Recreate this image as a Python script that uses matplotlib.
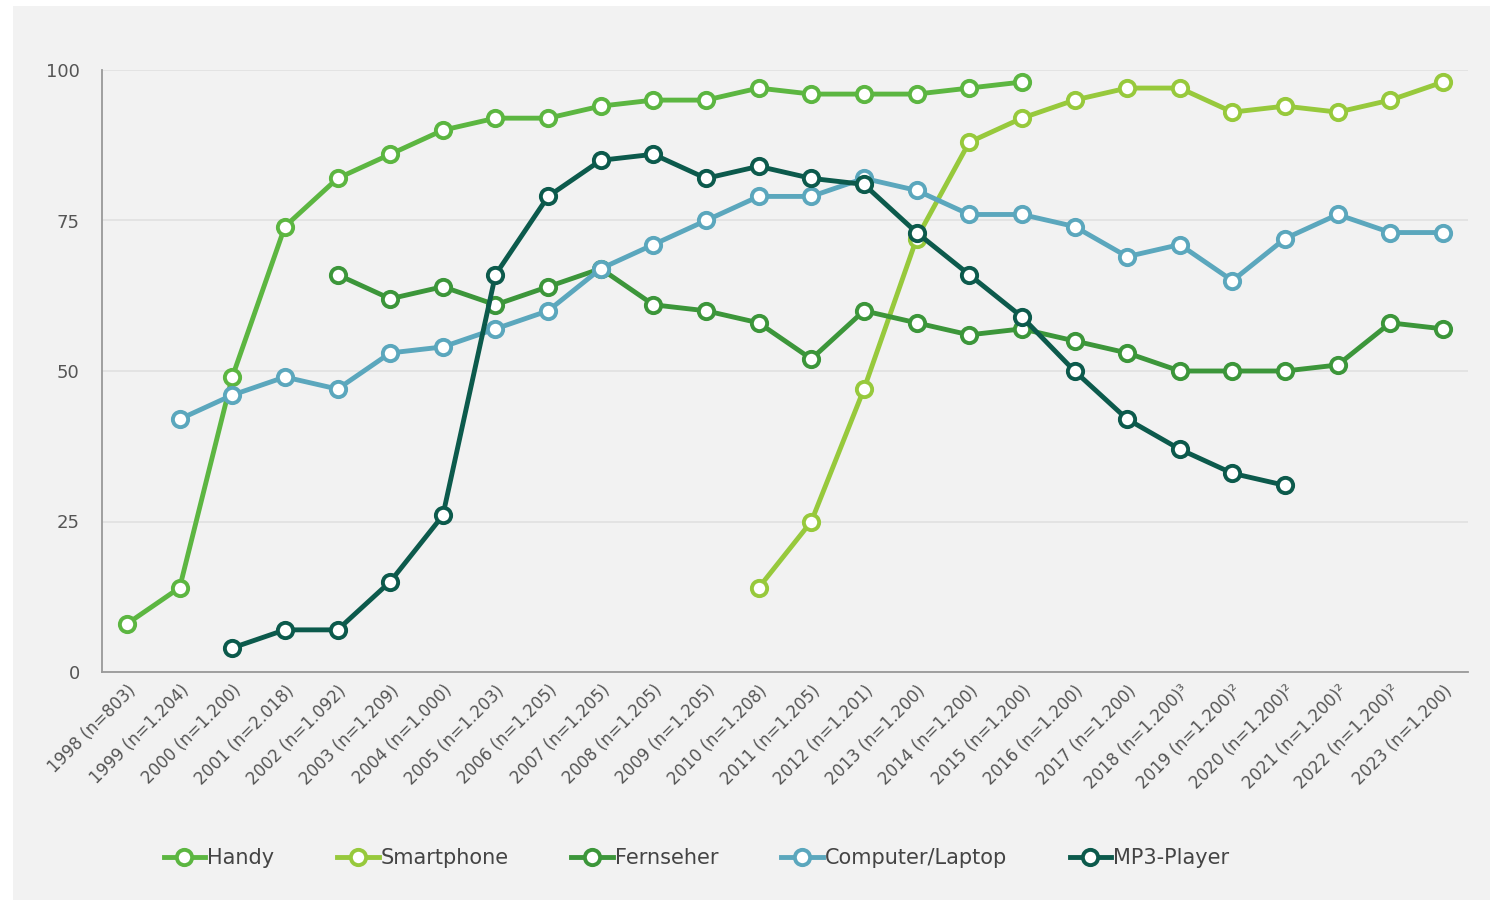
import numpy as np
import matplotlib.pyplot as plt
from matplotlib.patches import Rectangle

nan = np.nan

jahre = [
    "1998 (n=803)", "1999 (n=1.204)", "2000 (n=1.200)", "2001 (n=2.018)",
    "2002 (n=1.092)", "2003 (n=1.209)", "2004 (n=1.000)", "2005 (n=1.203)",
    "2006 (n=1.205)", "2007 (n=1.205)", "2008 (n=1.205)", "2009 (n=1.205)",
    "2010 (n=1.208)", "2011 (n=1.205)", "2012 (n=1.201)", "2013 (n=1.200)",
    "2014 (n=1.200)", "2015 (n=1.200)", "2016 (n=1.200)", "2017 (n=1.200)",
    "2018 (n=1.200)³", "2019 (n=1.200)²", "2020 (n=1.200)²", "2021 (n=1.200)²",
    "2022 (n=1.200)²", "2023 (n=1.200)",
]

handy = [8, 14, 49, 74, 82, 86, 90, 92, 92, 94, 95, 95, 97, 96, 96, 96, 97, 98,
         nan, nan, nan, nan, nan, nan, nan, nan]
smartphone = [nan] * 12 + [14, 25, 47, 72, 88, 92, 95, 97, 97, 93, 94, 93, 95, 98]
fernseher = [nan, nan, nan, nan, 66, 62, 64, 61, 64, 67, 61, 60, 58, 52, 60, 58,
             56, 57, 55, 53, 50, 50, 50, 51, 58, 57]
computer = [nan, 42, 46, 49, 47, 53, 54, 57, 60, 67, 71, 75, 79, 79, 82, 80,
            76, 76, 74, 69, 71, 65, 72, 76, 73, 73]
mp3 = [nan, nan, 4, 7, 7, 15, 26, 66, 79, 85, 86, 82, 84, 82, 81, 73, 66, 59,
       50, 42, 37, 33, 31, nan, nan, nan]

serien = [
    ("Handy", handy, "#5cb641"),
    ("Smartphone", smartphone, "#97c93c"),
    ("Fernseher", fernseher, "#3c963a"),
    ("Computer/Laptop", computer, "#5ba7bd"),
    ("MP3-Player", mp3, "#0c5a4c"),
]

plt.rcParams['font.family'] = ['Liberation Sans Narrow', 'DejaVu Sans']

fig = plt.figure(figsize=(15.01, 9.06), dpi=100, facecolor="white")
# hellgrauer Hintergrund
fig.patches.append(Rectangle((13 / 1501, 6 / 906), 1477 / 1501, 894 / 906,
                             transform=fig.transFigure, facecolor="#f2f2f2",
                             edgecolor="none", zorder=-10))

ax = fig.add_axes([102 / 1501, 1 - 672 / 906, 1366 / 1501, 602 / 906])
ax.set_facecolor("none")

x = np.arange(len(jahre))
for name, werte, farbe in serien:
    ax.plot(x, werte, color=farbe, lw=3.5, marker="o", ms=20, mfc="white",
            mec=farbe, mew=3.8, label=name, clip_on=False)

ax.set_xlim(-0.475, len(jahre) - 1 + 0.475)
ax.set_ylim(0, 100)
ax.set_yticks([0, 25, 50, 75, 100])
ax.set_xticks(x)
ax.set_xticklabels(jahre, rotation=45, ha="right", rotation_mode="anchor",
                   fontsize=12, color="#555555")
ax.tick_params(axis="y", labelsize=13, labelcolor="#555555", length=0, pad=16)
ax.tick_params(axis="x", length=0, pad=7)
ax.grid(axis="y", color="#e0e0e0", lw=1.2)
ax.set_axisbelow(True)

for s in ("top", "right"):
    ax.spines[s].set_visible(False)
for s in ("left", "bottom"):
    ax.spines[s].set_color("#999999")
    ax.spines[s].set_linewidth(1.3)

handles, labels = ax.get_legend_handles_labels()
for h in handles:
    h.set_markersize(11)
    h.set_markeredgewidth(2.8)
fig.legend(handles, labels, loc="center", bbox_to_anchor=(0.464, 1 - 858 / 906),
           ncol=5, frameon=False, fontsize=15, handlelength=2.0,
           handletextpad=0.1, columnspacing=3.0, labelcolor="#444444")

fig.savefig("out.png", dpi=100, facecolor=fig.get_facecolor())
